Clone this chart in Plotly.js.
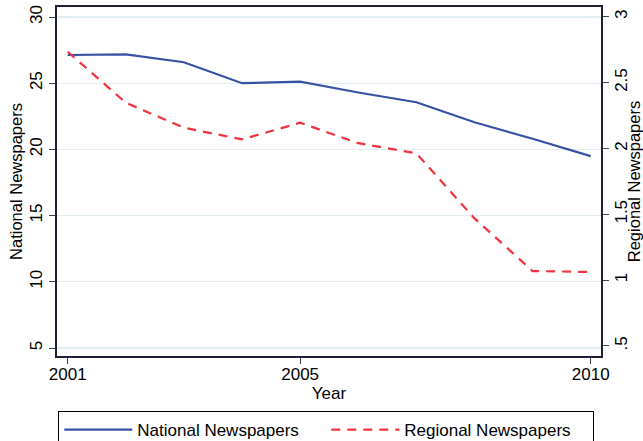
<!DOCTYPE html>
<html>
<head>
<meta charset="utf-8">
<script src="https://cdn.plot.ly/plotly-3.0.1.min.js"></script>
<style>
  html, body { margin: 0; padding: 0; background: #fff; }
  #chart { width: 643px; height: 441px; }
</style>
</head>
<body>
<div id="chart"></div>
<script>
// Newspaper counts by year, national (left axis) and regional (right axis)
const years = [2001, 2002, 2003, 2004, 2005, 2006, 2007, 2008, 2009, 2010];
const nationalNewspapers = [27.13, 27.18, 26.58, 25.0, 25.12, 24.3, 23.56, 22.05, 20.8, 19.49];
const regionalNewspapers = [2.734, 2.347, 2.157, 2.069, 2.195, 2.04, 1.963, 1.469, 1.069, 1.062];

const xTicks = [2001, 2005, 2010];
const leftTicks = [5, 10, 15, 20, 25, 30];
const leftTickText = ['5', '10', '15', '20', '25', '30'];
const rightTicks = [0.5, 1, 1.5, 2, 2.5, 3];
const rightTickText = ['.5', '1', '1.5', '2', '2.5', '3'];

const FONT = 'Liberation Sans, Arial, sans-serif';
const frameColor = '#1e2038';
const gridColor = '#e2eef2';

const traces = [
  {
    x: years, y: nationalNewspapers, name: 'National Newspapers',
    type: 'scatter', mode: 'lines', yaxis: 'y',
    line: { color: '#3752a4', width: 2.2 }
  },
  {
    x: years, y: regionalNewspapers, name: 'Regional Newspapers',
    type: 'scatter', mode: 'lines', yaxis: 'y2',
    line: { color: '#f2323e', width: 2.2, dash: '9px,7px' }
  }
];

const layout = {
  width: 643, height: 441,
  margin: { l: 57, r: 42, t: 7, b: 85, autoexpand: false },
  paper_bgcolor: '#fff', plot_bgcolor: '#fff',
  font: { family: FONT, size: 17, color: '#000' },
  showlegend: true,
  legend: {
    orientation: 'h', x: 0.495, xanchor: 'center',
    y: -0.158, yanchor: 'top',
    bordercolor: '#000', borderwidth: 1, bgcolor: '#fff',
    font: { family: FONT, size: 17, color: '#000' },
    entrywidth: 184, entrywidthmode: 'pixels', itemwidth: 68
  },
  xaxis: {
    range: [2000.816, 2010.177],
    tickvals: xTicks, ticktext: xTicks.map(String),
    ticks: 'outside', ticklen: 6, tickcolor: '#444', tickwidth: 1,
    ticklabelstandoff: -4,
    showgrid: false, zeroline: false,
    showline: true, linecolor: frameColor, linewidth: 2, mirror: true,
    tickfont: { family: FONT, size: 17, color: '#000' },
    title: { text: 'Year', font: { family: FONT, size: 17, color: '#000' }, standoff: 2 }
  },
  yaxis: {
    range: [4.396, 30.755],
    tickvals: leftTicks, ticktext: leftTickText, tickangle: -90,
    ticks: 'outside', ticklen: 6, tickcolor: '#444', tickwidth: 1,
    showgrid: true, gridcolor: gridColor, gridwidth: 1.3, zeroline: false,
    showline: true, linecolor: frameColor, linewidth: 2, mirror: true,
    tickfont: { family: FONT, size: 17, color: '#000' },
    title: { text: 'National Newspapers', font: { family: FONT, size: 16.5, color: '#000' }, standoff: 0 }
  },
  yaxis2: {
    range: [0.424, 3.074], overlaying: 'y', side: 'right',
    tickvals: rightTicks, ticktext: rightTickText, tickangle: -90,
    ticks: 'outside', ticklen: 6, tickcolor: '#444', tickwidth: 1,
    ticklabelstandoff: -2,
    showgrid: false, zeroline: false,
    showline: true, linecolor: frameColor, linewidth: 2,
    tickfont: { family: FONT, size: 17, color: '#000' },
    title: { text: 'Regional Newspapers', font: { family: FONT, size: 16.5, color: '#000' }, standoff: 4 }
  }
};

Plotly.newPlot('chart', traces, layout, { staticPlot: true, displayModeBar: false });
</script>
</body>
</html>
